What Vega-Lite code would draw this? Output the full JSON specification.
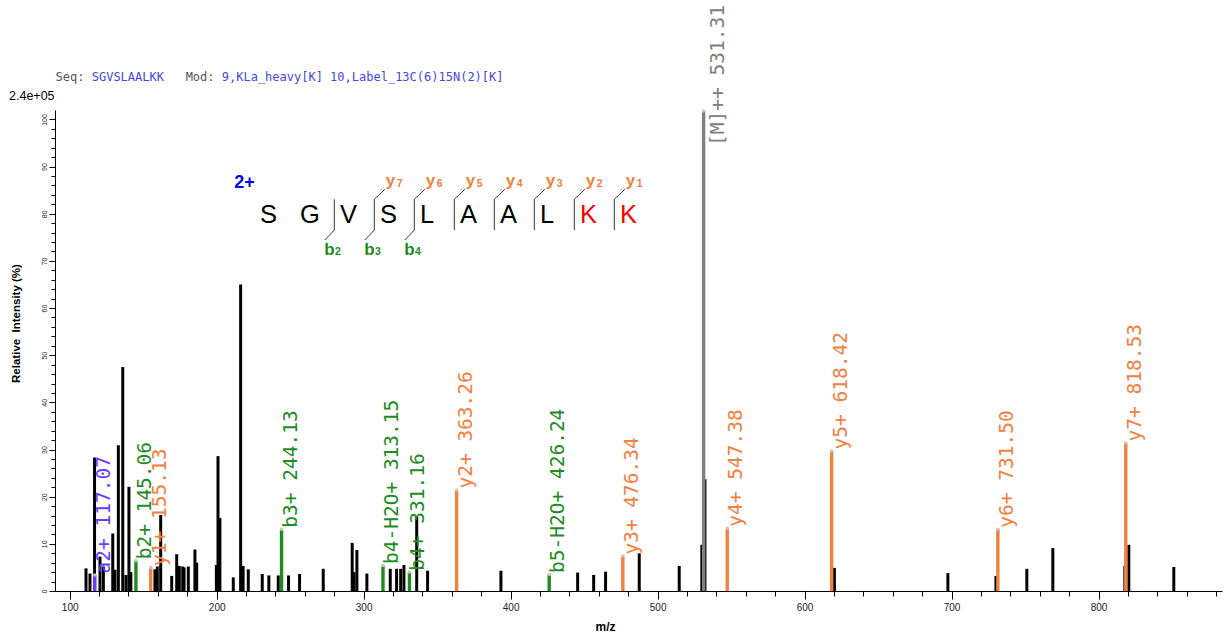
{
  "$schema": "https://vega.github.io/schema/vega-lite/v6.json",
  "width": 1167,
  "height": 481,
  "autosize": "none",
  "padding": {"left": 55, "top": 110, "right": 5, "bottom": 46},
  "background": "white",
  "config": {"view": {"stroke": null}},
  "datasets": {
    "peaks": [
      {"mz": 111.1, "rel": 4.8, "ion": "none"},
      {"mz": 113.8, "rel": 3.7, "ion": "none"},
      {"mz": 116.9, "rel": 28.3, "ion": "none"},
      {"mz": 120.6, "rel": 7.3, "ion": "none"},
      {"mz": 122.9, "rel": 5.2, "ion": "none"},
      {"mz": 129.3, "rel": 12.2, "ion": "none"},
      {"mz": 130.8, "rel": 4.5, "ion": "none"},
      {"mz": 133.1, "rel": 30.9, "ion": "none"},
      {"mz": 136.1, "rel": 47.5, "ion": "none"},
      {"mz": 138.3, "rel": 3.4, "ion": "none"},
      {"mz": 140.3, "rel": 22.1, "ion": "none"},
      {"mz": 141.6, "rel": 4.0, "ion": "none"},
      {"mz": 158.0, "rel": 4.6, "ion": "none"},
      {"mz": 159.6, "rel": 5.2, "ion": "none"},
      {"mz": 161.9, "rel": 16.1, "ion": "none"},
      {"mz": 169.4, "rel": 3.2, "ion": "none"},
      {"mz": 172.8, "rel": 7.8, "ion": "none"},
      {"mz": 174.6, "rel": 5.3, "ion": "none"},
      {"mz": 176.9, "rel": 5.2, "ion": "none"},
      {"mz": 177.8, "rel": 5.0, "ion": "none"},
      {"mz": 180.7, "rel": 5.2, "ion": "none"},
      {"mz": 185.2, "rel": 8.8, "ion": "none"},
      {"mz": 186.4, "rel": 6.0, "ion": "none"},
      {"mz": 199.8, "rel": 5.5, "ion": "none"},
      {"mz": 200.9, "rel": 28.6, "ion": "none"},
      {"mz": 202.2, "rel": 15.5, "ion": "none"},
      {"mz": 211.3, "rel": 2.9, "ion": "none"},
      {"mz": 216.3, "rel": 65.0, "ion": "none"},
      {"mz": 218.0, "rel": 5.3, "ion": "none"},
      {"mz": 221.5, "rel": 4.6, "ion": "none"},
      {"mz": 231.0, "rel": 3.6, "ion": "none"},
      {"mz": 235.5, "rel": 3.3, "ion": "none"},
      {"mz": 241.9, "rel": 3.3, "ion": "none"},
      {"mz": 248.9, "rel": 3.3, "ion": "none"},
      {"mz": 256.4, "rel": 3.6, "ion": "none"},
      {"mz": 272.5, "rel": 4.7, "ion": "none"},
      {"mz": 292.2, "rel": 10.2, "ion": "none"},
      {"mz": 293.4, "rel": 4.0, "ion": "none"},
      {"mz": 295.4, "rel": 8.7, "ion": "none"},
      {"mz": 302.2, "rel": 3.7, "ion": "none"},
      {"mz": 318.1, "rel": 4.7, "ion": "none"},
      {"mz": 322.4, "rel": 4.7, "ion": "none"},
      {"mz": 325.2, "rel": 4.7, "ion": "none"},
      {"mz": 327.4, "rel": 5.5, "ion": "none"},
      {"mz": 336.1, "rel": 15.8, "ion": "none"},
      {"mz": 343.5, "rel": 4.3, "ion": "none"},
      {"mz": 393.4, "rel": 4.3, "ion": "none"},
      {"mz": 445.6, "rel": 3.9, "ion": "none"},
      {"mz": 456.5, "rel": 3.4, "ion": "none"},
      {"mz": 464.6, "rel": 4.1, "ion": "none"},
      {"mz": 487.5, "rel": 8.0, "ion": "none"},
      {"mz": 514.7, "rel": 5.3, "ion": "none"},
      {"mz": 530.1, "rel": 9.8, "ion": "none"},
      {"mz": 532.2, "rel": 23.7, "ion": "none"},
      {"mz": 620.3, "rel": 4.9, "ion": "none"},
      {"mz": 697.5, "rel": 3.8, "ion": "none"},
      {"mz": 730.2, "rel": 3.2, "ion": "none"},
      {"mz": 751.2, "rel": 4.7, "ion": "none"},
      {"mz": 768.9, "rel": 9.1, "ion": "none"},
      {"mz": 817.9, "rel": 5.3, "ion": "none"},
      {"mz": 820.6, "rel": 9.8, "ion": "none"},
      {"mz": 851.2, "rel": 5.1, "ion": "none"},
      {"mz": 117.07, "rel": 3.4, "ion": "a", "label": "a2+ 117.07"},
      {"mz": 145.06, "rel": 6.4, "ion": "b", "label": "b2+ 145.06"},
      {"mz": 155.13, "rel": 5.0, "ion": "y", "label": "y1+ 155.13"},
      {"mz": 244.13, "rel": 13.1, "ion": "b", "label": "b3+ 244.13"},
      {"mz": 313.15, "rel": 5.4, "ion": "b", "label": "b4-H2O+ 313.15"},
      {"mz": 331.16, "rel": 4.0, "ion": "b", "label": "b4+ 331.16"},
      {"mz": 363.26, "rel": 21.4, "ion": "y", "label": "y2+ 363.26"},
      {"mz": 426.24, "rel": 3.5, "ion": "b", "label": "b5-H2O+ 426.24"},
      {"mz": 476.34, "rel": 7.4, "ion": "y", "label": "y3+ 476.34"},
      {"mz": 531.31, "rel": 101.8, "ion": "M", "label": "[M]++ 531.31"},
      {"mz": 547.38, "rel": 13.3, "ion": "y", "label": "y4+ 547.38"},
      {"mz": 618.42, "rel": 29.7, "ion": "y", "label": "y5+ 618.42"},
      {"mz": 731.5, "rel": 13.1, "ion": "y", "label": "y6+ 731.50"},
      {"mz": 818.53, "rel": 31.4, "ion": "y", "label": "y7+ 818.53"}
    ],
    "residues": [
      {"pos": 1, "aa": "S", "label": "none"},
      {"pos": 2, "aa": "G", "label": "none"},
      {"pos": 3, "aa": "V", "label": "none"},
      {"pos": 4, "aa": "S", "label": "none"},
      {"pos": 5, "aa": "L", "label": "none"},
      {"pos": 6, "aa": "A", "label": "none"},
      {"pos": 7, "aa": "A", "label": "none"},
      {"pos": 8, "aa": "L", "label": "none"},
      {"pos": 9, "aa": "K", "label": "heavy"},
      {"pos": 10, "aa": "K", "label": "heavy"}
    ],
    "cleavages": [
      {"pos": 2.5, "b": "2"},
      {"pos": 3.5, "y": "7", "b": "3"},
      {"pos": 4.5, "y": "6", "b": "4"},
      {"pos": 5.5, "y": "5"},
      {"pos": 6.5, "y": "4"},
      {"pos": 7.5, "y": "3"},
      {"pos": 8.5, "y": "2"},
      {"pos": 9.5, "y": "1"}
    ],
    "charge": [{"pos": 0, "charge": "2+"}],
    "header": [
      {"col": 0, "text": "Seq:", "part": "key"},
      {"col": 5, "text": "SGVSLAALKK", "part": "value"},
      {"col": 18, "text": "Mod:", "part": "key"},
      {"col": 23, "text": "9,KLa_heavy[K] 10,Label_13C(6)15N(2)[K]", "part": "value"},
      {"col": 0, "text": "2.4e+05", "part": "base_peak"}
    ]
  },
  "resolve": {"scale": {"x": "independent", "y": "independent"}},
  "layer": [
    {
      "data": {"name": "peaks"},
      "encoding": {
        "x": {
          "field": "mz",
          "type": "quantitative",
          "scale": {"domain": [90, 884], "nice": false, "zero": false},
          "axis": {
            "values": [100, 120, 140, 160, 180, 200, 220, 240, 260, 280, 300, 320, 340, 360, 380, 400, 420, 440, 460, 480, 500, 520, 540, 560, 580, 600, 620, 640, 660, 680, 700, 720, 740, 760, 780, 800, 820, 840, 860, 880],
            "format": "d",
            "tickSize": {"condition": {"test": "datum.value % 100 === 0", "value": 8}, "value": 5},
            "labelExpr": "datum.value % 100 === 0 ? datum.label : ''",
            "labelFont": "Liberation Sans Narrow, Liberation Sans",
            "labelFontSize": 10,
            "labelColor": "#222222",
            "labelPadding": 3,
            "labelFlush": false,
            "labelOverlap": false,
            "domainColor": "#000000",
            "tickColor": "#000000",
            "grid": false,
            "title": "m/z",
            "titleFont": "Liberation Sans",
            "titleFontSize": 12,
            "titleFontWeight": "bold",
            "titleColor": "#000000",
            "titleX": 550,
            "titleY": 35,
            "titleAlign": "center",
            "titleBaseline": "middle"
          }
        },
        "y": {
          "field": "rel",
          "type": "quantitative",
          "scale": {"domain": [0, 102], "nice": false},
          "axis": {
            "values": [0, 2, 4, 6, 8, 10, 12, 14, 16, 18, 20, 22, 24, 26, 28, 30, 32, 34, 36, 38, 40, 42, 44, 46, 48, 50, 52, 54, 56, 58, 60, 62, 64, 66, 68, 70, 72, 74, 76, 78, 80, 82, 84, 86, 88, 90, 92, 94, 96, 98, 100],
            "format": "d",
            "tickSize": {"condition": {"test": "datum.value % 10 === 0", "value": 6}, "value": 4},
            "labelExpr": "datum.value % 10 === 0 ? datum.label : ''",
            "labelAngle": 270,
            "labelAlign": "center",
            "labelBaseline": "bottom",
            "labelFont": "Liberation Sans",
            "labelFontSize": 7,
            "labelColor": "#222222",
            "labelPadding": 2,
            "labelOverlap": false,
            "labelFlush": false,
            "domainColor": "#000000",
            "tickColor": "#000000",
            "grid": false,
            "title": "Relative\u00a0 Intensity (%)",
            "titleFont": "Liberation Sans",
            "titleFontSize": 11.5,
            "titleFontWeight": "bold",
            "titleColor": "#000000",
            "titleAngle": 270,
            "titleX": -39,
            "titleY": 213,
            "titleAlign": "center",
            "titleBaseline": "middle"
          }
        }
      },
      "layer": [
        {
          "transform": [{"filter": "datum.ion === 'none'"}],
          "mark": {"type": "rule", "strokeWidth": 3, "color": "#000000"},
          "encoding": {"y2": {"datum": 0}}
        },
        {
          "transform": [{"filter": "datum.ion !== 'none'"}],
          "mark": {"type": "rule", "strokeWidth": 3.4},
          "encoding": {
            "y2": {"datum": 0},
            "color": {
              "field": "ion",
              "type": "nominal",
              "scale": {"domain": ["a", "b", "y", "M"], "range": ["#6b3cff", "#1e8c1e", "#f4803f", "#808080"]},
              "legend": null
            }
          }
        },
        {
          "transform": [{"filter": "datum.ion !== 'none'"}],
          "mark": {"type": "point", "filled": true, "size": 12, "color": "#c4c4c4", "opacity": 1}
        },
        {
          "transform": [{"filter": "datum.ion !== 'none' && datum.ion !== 'M'"}],
          "mark": {"type": "text", "angle": 270, "align": "left", "baseline": "top", "dx": 1.5, "font": "DejaVu Sans Mono", "fontSize": 19.5},
          "encoding": {
            "text": {"field": "label"},
            "color": {
              "field": "ion",
              "type": "nominal",
              "scale": {"domain": ["a", "b", "y", "M"], "range": ["#6b3cff", "#1e8c1e", "#f4803f", "#808080"]},
              "legend": null
            }
          }
        },
        {
          "transform": [{"filter": "datum.ion === 'M'"}],
          "mark": {"type": "text", "angle": 270, "align": "left", "baseline": "top", "dx": -35, "dy": 5, "font": "DejaVu Sans Mono", "fontSize": 19.5, "color": "#808080"},
          "encoding": {"text": {"field": "label"}}
        }
      ]
    },
    {
      "encoding": {
        "x": {
          "field": "pos",
          "type": "quantitative",
          "scale": {"domain": [-4.4825, 24.6925], "nice": false, "zero": false},
          "axis": null
        }
      },
      "layer": [
        {
          "data": {"name": "residues"},
          "mark": {"type": "text", "align": "left", "baseline": "alphabetic", "dx": -14.3, "font": "Liberation Sans", "fontSize": 25.5},
          "encoding": {
            "y": {"datum": 77.97, "type": "quantitative", "scale": {"domain": [0, 102], "nice": false}, "axis": null},
            "text": {"field": "aa"},
            "color": {"condition": {"test": "datum.label === 'heavy'", "value": "#ff0000"}, "value": "#000000"}
          }
        },
        {
          "data": {"name": "cleavages"},
          "mark": {"type": "rule", "strokeWidth": 1, "color": "#333333"},
          "encoding": {
            "y": {"datum": 83.06, "type": "quantitative", "scale": {"domain": [0, 102], "nice": false}, "axis": null},
            "y2": {"datum": 76.55}
          }
        },
        {
          "data": {"name": "cleavages"},
          "transform": [{"filter": "datum.y != null"}],
          "mark": {"type": "rule", "strokeWidth": 1, "color": "#333333", "x2Offset": 10.5},
          "encoding": {
            "x2": {"field": "pos"},
            "y": {"datum": 83.06, "type": "quantitative", "scale": {"domain": [0, 102], "nice": false}, "axis": null},
            "y2": {"datum": 85.18}
          }
        },
        {
          "data": {"name": "cleavages"},
          "transform": [{"filter": "datum.b != null"}],
          "mark": {"type": "rule", "strokeWidth": 1, "color": "#333333", "x2Offset": -9.5},
          "encoding": {
            "x2": {"field": "pos"},
            "y": {"datum": 76.55, "type": "quantitative", "scale": {"domain": [0, 102], "nice": false}, "axis": null},
            "y2": {"datum": 74.43}
          }
        },
        {
          "data": {"name": "cleavages"},
          "transform": [{"filter": "datum.y != null"}],
          "mark": {"type": "text", "align": "left", "baseline": "alphabetic", "dx": 11.4, "font": "Liberation Sans", "fontSize": 17, "fontWeight": "bold", "color": "#f4803f"},
          "encoding": {
            "y": {"datum": 85.93, "type": "quantitative", "scale": {"domain": [0, 102], "nice": false}, "axis": null},
            "text": {"value": "y"}
          }
        },
        {
          "data": {"name": "cleavages"},
          "transform": [{"filter": "datum.y != null"}],
          "mark": {"type": "text", "align": "left", "baseline": "alphabetic", "dx": 22.4, "font": "Liberation Sans", "fontSize": 10.5, "fontWeight": "bold", "color": "#f4803f"},
          "encoding": {
            "y": {"datum": 85.7, "type": "quantitative", "scale": {"domain": [0, 102], "nice": false}, "axis": null},
            "text": {"field": "y"}
          }
        },
        {
          "data": {"name": "cleavages"},
          "transform": [{"filter": "datum.b != null"}],
          "mark": {"type": "text", "align": "left", "baseline": "alphabetic", "dx": -10, "font": "Liberation Sans", "fontSize": 17, "fontWeight": "bold", "color": "#1e8c1e"},
          "encoding": {
            "y": {"datum": 71.25, "type": "quantitative", "scale": {"domain": [0, 102], "nice": false}, "axis": null},
            "text": {"value": "b"}
          }
        },
        {
          "data": {"name": "cleavages"},
          "transform": [{"filter": "datum.b != null"}],
          "mark": {"type": "text", "align": "left", "baseline": "alphabetic", "dx": 0.7, "font": "Liberation Sans", "fontSize": 10.5, "fontWeight": "bold", "color": "#1e8c1e"},
          "encoding": {
            "y": {"datum": 71.25, "type": "quantitative", "scale": {"domain": [0, 102], "nice": false}, "axis": null},
            "text": {"field": "b"}
          }
        },
        {
          "data": {"name": "charge"},
          "mark": {"type": "text", "align": "left", "baseline": "alphabetic", "font": "Liberation Sans", "fontSize": 18, "fontWeight": "bold", "color": "#0000ff"},
          "encoding": {
            "y": {"datum": 85.39, "type": "quantitative", "scale": {"domain": [0, 102], "nice": false}, "axis": null},
            "text": {"field": "charge"}
          }
        }
      ]
    },
    {
      "data": {"name": "header"},
      "encoding": {
        "x": {"field": "col", "type": "quantitative", "scale": {"domain": [-0.083, 161.46], "nice": false, "zero": false}, "axis": null}
      },
      "layer": [
        {
          "transform": [{"filter": "datum.part !== 'base_peak'"}],
          "mark": {"type": "text", "align": "left", "baseline": "middle", "font": "DejaVu Sans Mono", "fontSize": 12},
          "encoding": {
            "y": {"datum": 109, "type": "quantitative", "scale": {"domain": [0, 102], "nice": false}, "axis": null},
            "text": {"field": "text"},
            "color": {"condition": {"test": "datum.part === 'key'", "value": "#555555"}, "value": "#4646e6"}
          }
        },
        {
          "transform": [{"filter": "datum.part === 'base_peak'"}],
          "mark": {"type": "text", "align": "left", "baseline": "middle", "dx": -46.6, "dy": -14, "font": "Liberation Sans", "fontSize": 12.5, "color": "#000000"},
          "encoding": {
            "y": {"datum": 102, "type": "quantitative", "scale": {"domain": [0, 102], "nice": false}, "axis": null},
            "text": {"field": "text"}
          }
        }
      ]
    }
  ]
}
